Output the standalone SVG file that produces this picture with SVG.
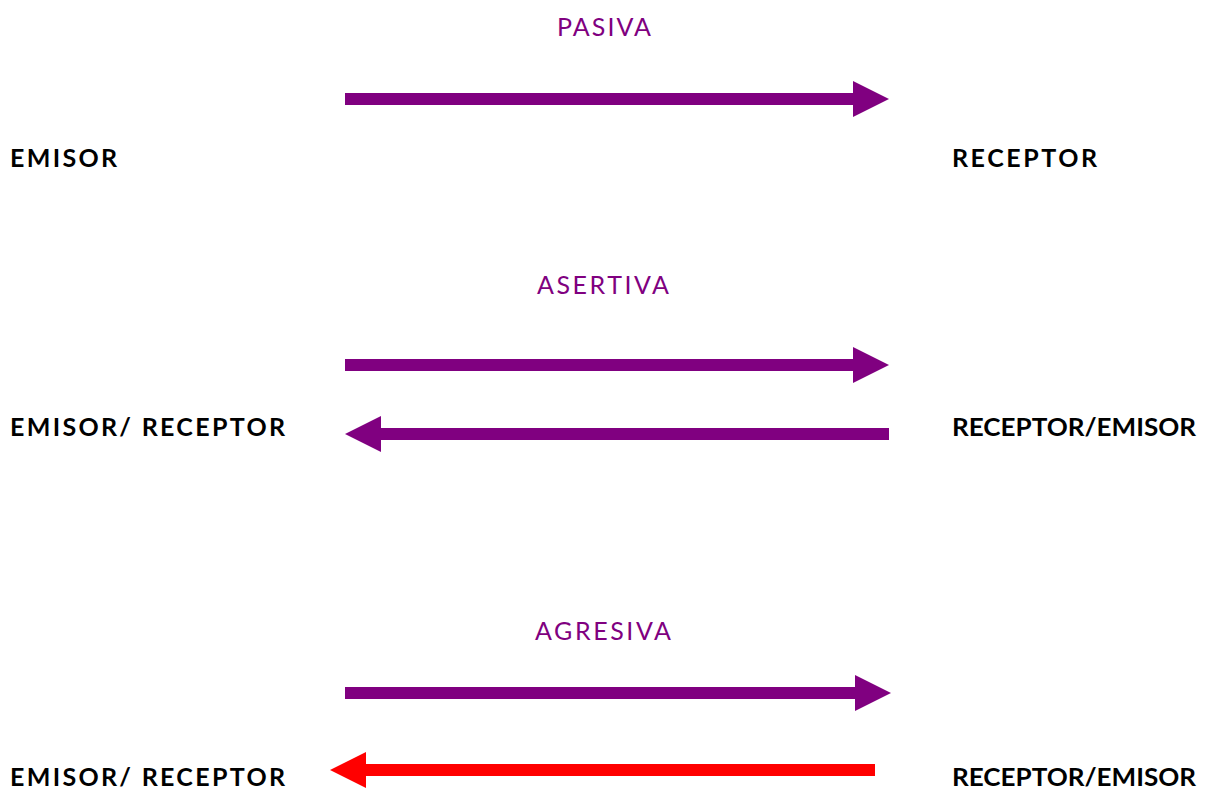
<svg xmlns="http://www.w3.org/2000/svg" width="1208" height="794" viewBox="0 0 1208 794">
  <style>
    .party { font-family: "Lato", "Open Sans", sans-serif; font-weight: bold; font-size: 25px; fill: #000; }
    .style { font-family: "Lato", "Open Sans", sans-serif; font-size: 25px; fill: #800080; }
    .shaft-p { fill: #800080; }
    .shaft-r { fill: #ff0000; }
  </style>
  <rect width="1208" height="794" fill="#fff"/>

  <g id="connectors">
    <!-- pasiva: emisor to receptor -->
    <path class="shaft-p" d="M345 93 H853 V81 L889 99 L853 117 V105 H345 Z"/>
    <!-- asertiva: both directions -->
    <path class="shaft-p" d="M345 359 H853 V347 L889 365 L853 383 V371 H345 Z"/>
    <path class="shaft-p" d="M889 428 H381 V416 L345 434 L381 452 V440 H889 Z"/>
    <!-- agresiva -->
    <path class="shaft-p" d="M345 687 H855 V675 L891 693 L855 711 V699 H345 Z"/>
    <path class="shaft-r" d="M875 764 H366 V752 L330 770 L366 788 V776 H875 Z"/>
  </g>

  <g id="label-pasiva"><text class="style" x="557" y="36" textLength="94" lengthAdjust="spacing">PASIVA</text></g>
  <g id="node-emisor"><text class="party" x="10" y="167" textLength="107" lengthAdjust="spacing">EMISOR</text></g>
  <g id="node-receptor"><text class="party" x="952" y="167" textLength="145" lengthAdjust="spacing">RECEPTOR</text></g>

  <g id="label-asertiva"><text class="style" x="537" y="294" textLength="132" lengthAdjust="spacing">ASERTIVA</text></g>
  <g id="node-emisor-receptor-1"><text class="party" x="10" y="436" textLength="275" lengthAdjust="spacing">EMISOR/ RECEPTOR</text></g>
  <g id="node-receptor-emisor-1"><text class="party" x="952" y="436" textLength="244" lengthAdjust="spacingAndGlyphs">RECEPTOR/EMISOR</text></g>

  <g id="label-agresiva"><text class="style" x="535" y="640" textLength="136" lengthAdjust="spacing">AGRESIVA</text></g>
  <g id="node-emisor-receptor-2"><text class="party" x="10" y="786" textLength="275" lengthAdjust="spacing">EMISOR/ RECEPTOR</text></g>
  <g id="node-receptor-emisor-2"><text class="party" x="952" y="786" textLength="244" lengthAdjust="spacingAndGlyphs">RECEPTOR/EMISOR</text></g>
</svg>
